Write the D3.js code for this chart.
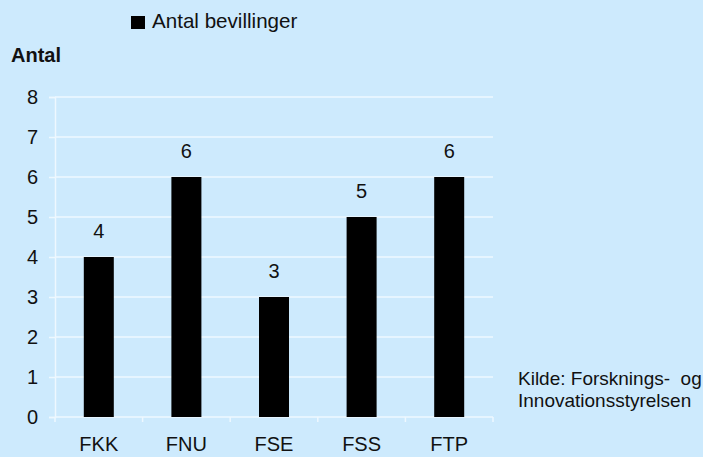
<!DOCTYPE html>
<html>
<head>
<meta charset="utf-8">
<script src="https://cdn.jsdelivr.net/npm/d3@7"></script>
<style>
  html, body { margin: 0; padding: 0; background: #cdeafd; }
  svg { display: block; font-family: "Liberation Sans", Arial, sans-serif; }
</style>
</head>
<body>
<svg id="chart" width="703" height="457"></svg>
<script>
// Bevillinger pr. råd
const categories = ["FKK", "FNU", "FSE", "FSS", "FTP"];
const values = [4, 6, 3, 5, 6];
const yTicks = [0, 1, 2, 3, 4, 5, 6, 7, 8];
const seriesName = "Antal bevillinger";
const yTitle = "Antal";
const sourceLines = ["Kilde: Forsknings-  og", "Innovationsstyrelsen"];

const svg = d3.select("#chart");
const W = 703, H = 457;
svg.append("rect").attr("width", W).attr("height", H).attr("fill", "#cdeafd");

const margin = { left: 55, right: 210, top: 97, bottom: 40 };
const x = d3.scaleBand().domain(categories).range([margin.left, W - margin.right]);
const y = d3.scaleLinear().domain([0, 8]).range([H - margin.bottom, margin.top]);
const barW = 30;
const fs = 20;

// Grid lines
svg.append("g").selectAll("line").data(yTicks.filter(d => d > 0)).join("line")
  .attr("x1", margin.left).attr("x2", W - margin.right)
  .attr("y1", d => y(d)).attr("y2", d => y(d))
  .attr("stroke", "#eef8ff").attr("stroke-width", 1.5);

// Y axis
const yAxis = svg.append("g").attr("transform", `translate(${margin.left},0)`)
  .call(d3.axisLeft(y).tickValues(yTicks).tickSize(6).tickPadding(11).tickFormat(d3.format("d")));
yAxis.select(".domain").attr("stroke", "#eef8ff").attr("stroke-width", 1.5);
yAxis.selectAll(".tick line").attr("stroke", "#eef8ff").attr("stroke-width", 1.5);
yAxis.selectAll(".tick text").attr("fill", "#111").attr("font-size", fs)
  .attr("font-family", "Liberation Sans, Arial, sans-serif");

// X axis with category separators
const xg = svg.append("g");
xg.append("line").attr("x1", margin.left).attr("x2", W - margin.right)
  .attr("y1", y(0)).attr("y2", y(0)).attr("stroke", "#eef8ff").attr("stroke-width", 1.5);
const seps = categories.map(c => x(c)).concat([x(categories[categories.length - 1]) + x.bandwidth()]);
xg.selectAll("line.sep").data(seps).join("line").attr("class", "sep")
  .attr("x1", d => d).attr("x2", d => d)
  .attr("y1", y(0)).attr("y2", y(0) + 5)
  .attr("stroke", "#eef8ff").attr("stroke-width", 1.5);
xg.selectAll("text").data(categories).join("text")
  .attr("x", d => x(d) + x.bandwidth() / 2).attr("y", 451)
  .attr("text-anchor", "middle").attr("font-size", fs).attr("fill", "#111")
  .text(d => d);

// Bars
svg.append("g").selectAll("rect").data(categories).join("rect")
  .attr("x", (d) => x(d) + x.bandwidth() / 2 - barW / 2)
  .attr("width", barW)
  .attr("y", (d, i) => y(values[i]))
  .attr("height", (d, i) => y(0) - y(values[i]))
  .attr("fill", "#000");

// Value labels
svg.append("g").selectAll("text").data(categories).join("text")
  .attr("x", d => x(d) + x.bandwidth() / 2)
  .attr("y", (d, i) => y(values[i]) - 19)
  .attr("text-anchor", "middle").attr("font-size", fs).attr("fill", "#111")
  .text((d, i) => values[i]);

// Legend
svg.append("rect").attr("x", 131).attr("y", 16).attr("width", 14).attr("height", 13).attr("fill", "#000");
svg.append("text").attr("x", 152).attr("y", 28).attr("font-size", 20.6).attr("fill", "#111").text(seriesName);

// Y title
svg.append("text").attr("x", 11).attr("y", 62).attr("font-size", fs).attr("font-weight", "bold")
  .attr("fill", "#111").text(yTitle);

// Source
svg.append("g").selectAll("text").data(sourceLines).join("text")
  .attr("x", 518).attr("y", (d, i) => 385 + i * 22)
  .attr("font-size", 19).attr("fill", "#111")
  .attr("xml:space", "preserve").style("white-space", "pre")
  .text(d => d);
</script>
</body>
</html>
